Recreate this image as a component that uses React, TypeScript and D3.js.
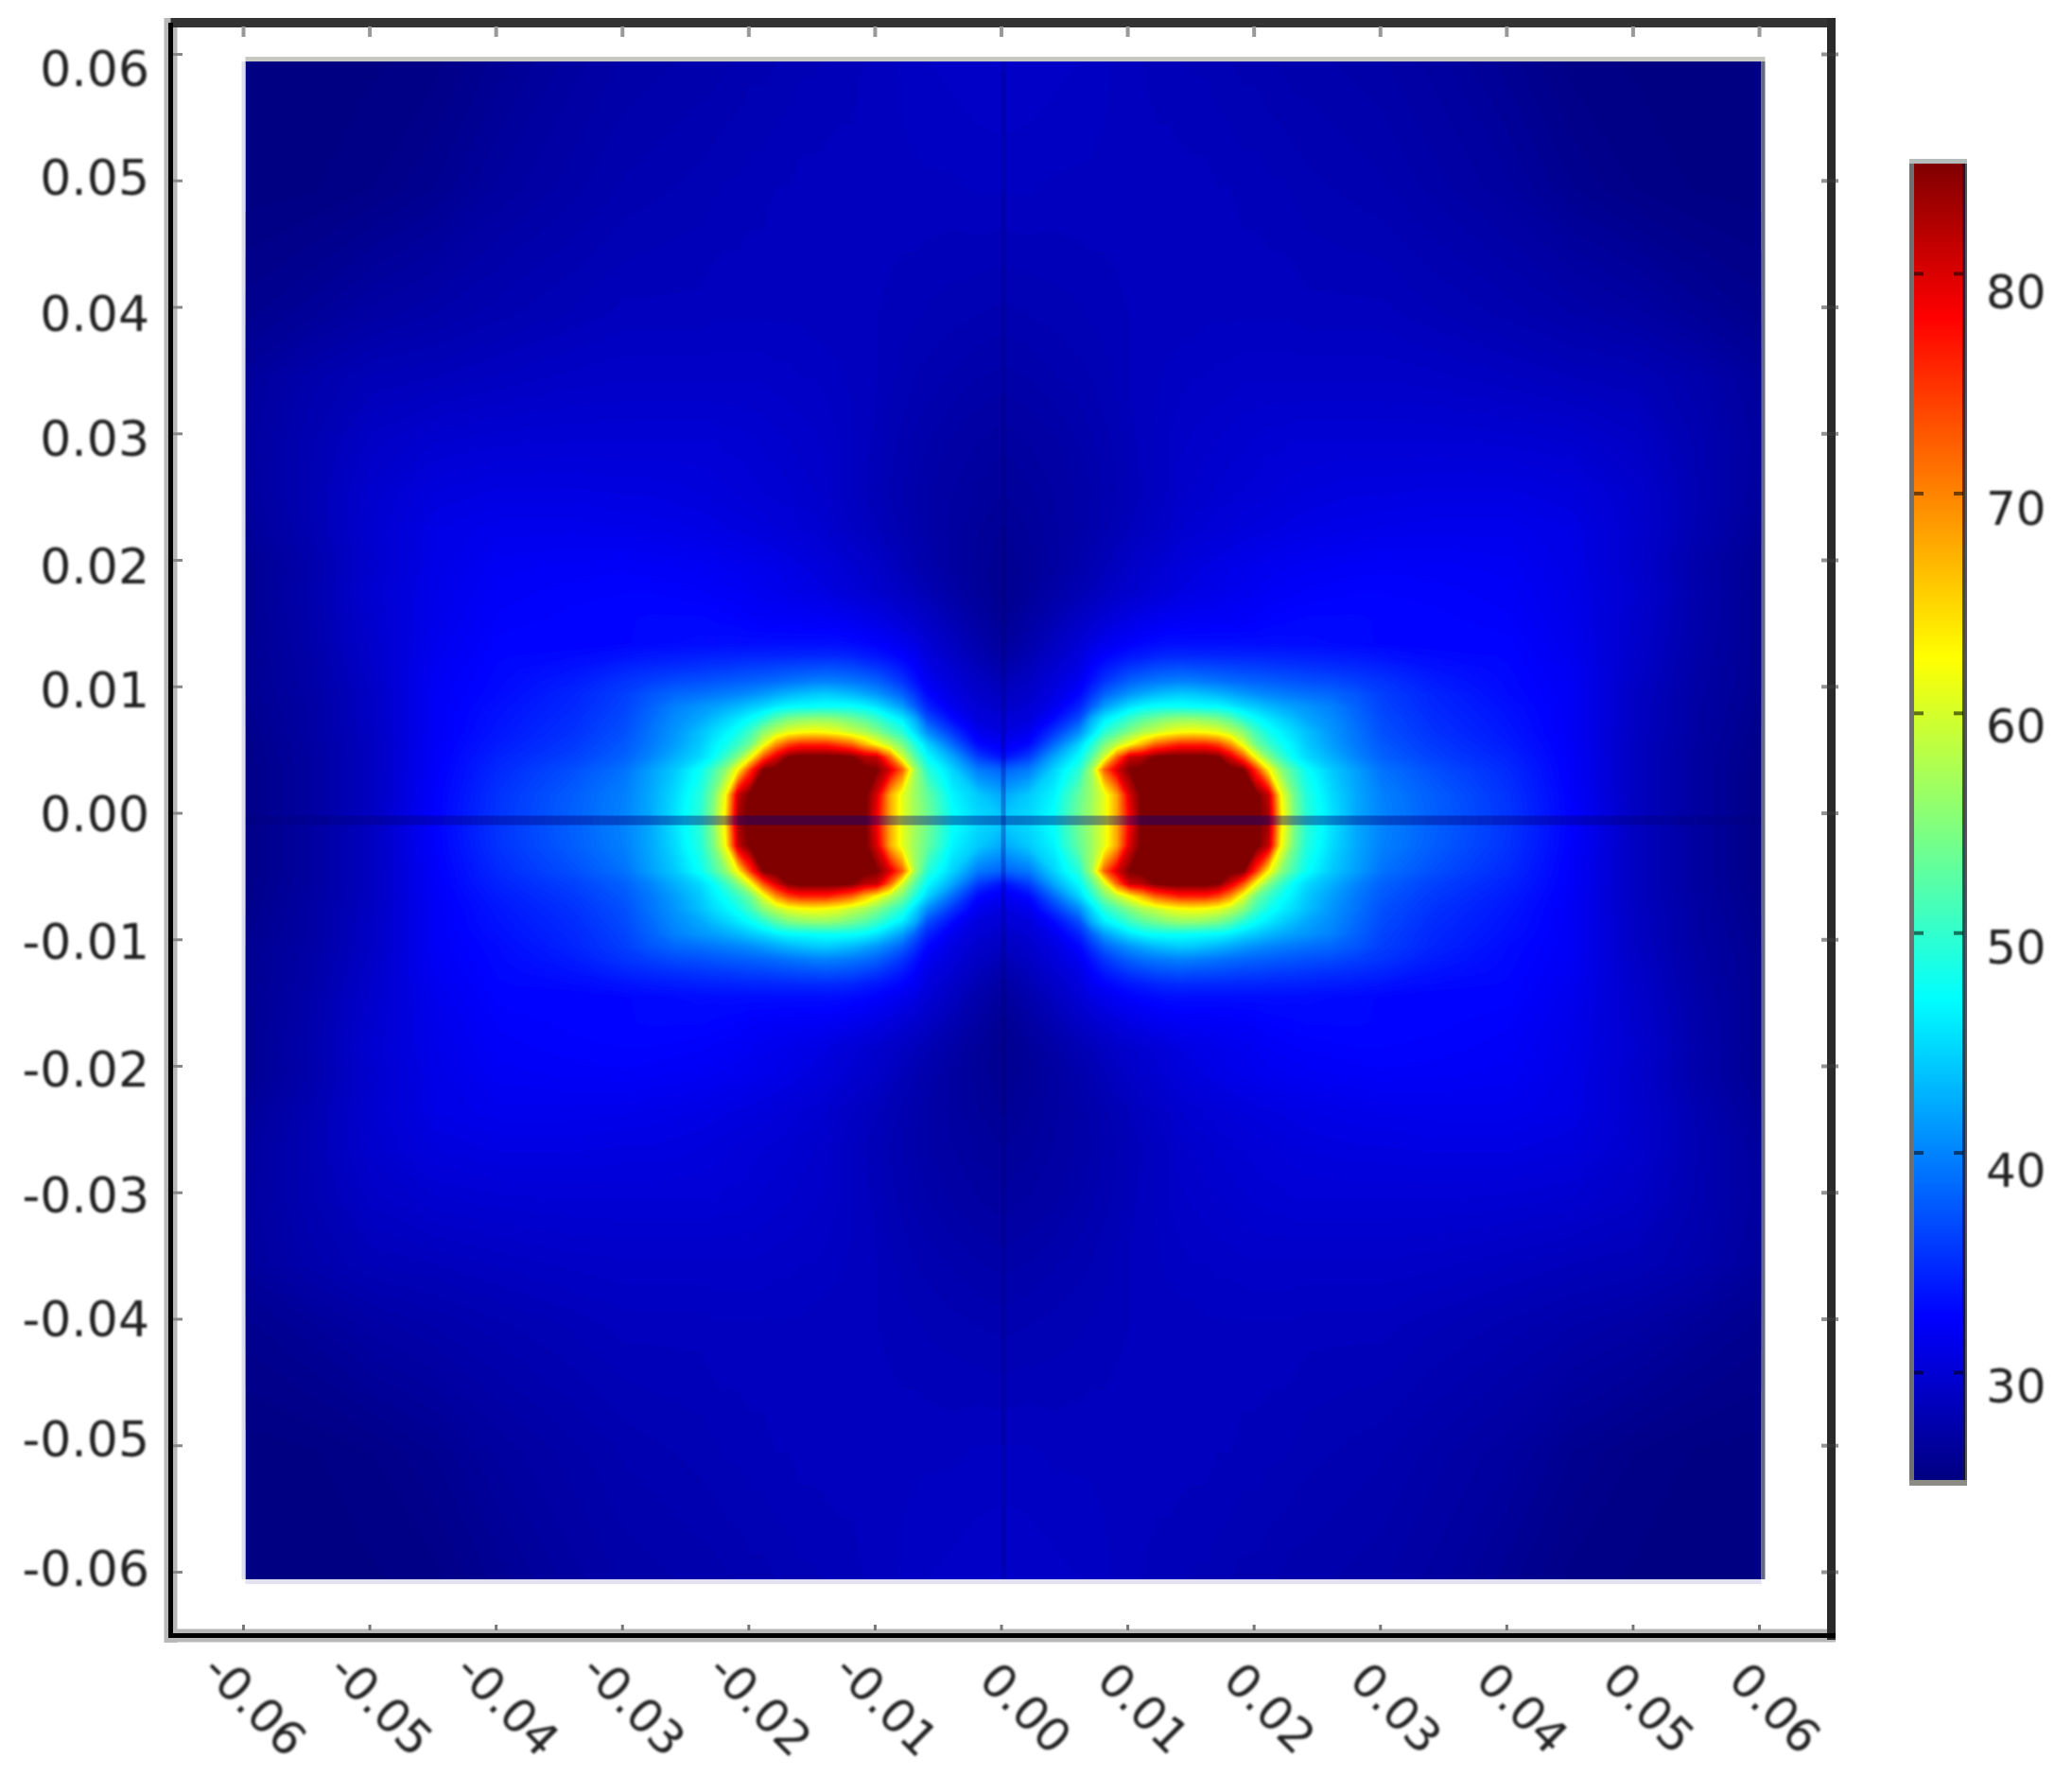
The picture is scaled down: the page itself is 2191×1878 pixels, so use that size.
import React, { useRef, useEffect } from "react";
import { select, scaleLinear, contours, geoPath, geoTransform, range, axisLeft, axisRight, axisTop, axisBottom } from "d3";

const WIDTH = 2191;
const HEIGHT = 1878;

// tick labels
const axisTicks = [-0.06, -0.05, -0.04, -0.03, -0.02, -0.01, 0, 0.01, 0.02, 0.03, 0.04, 0.05, 0.06];
const colorbarTicks = [30, 40, 50, 60, 70, 80];

// jet colormap
const colorValues = [25.1, 32.5, 47, 62.5, 78, 85];
const colorStops = ["#000082", "#0000ff", "#00ffff", "#ffff00", "#ff0000", "#800000"];

// sample positions of the field (upper right quadrant, the plot is mirrored about both axes)
const xSamples = [0, 0.002, 0.004, 0.006, 0.007, 0.008, 0.009, 0.01, 0.011, 0.012, 0.013, 0.014, 0.015, 0.016, 0.017, 0.018, 0.019, 0.02, 0.021, 0.022, 0.023, 0.024, 0.026, 0.028, 0.03, 0.034, 0.04, 0.045, 0.05, 0.055, 0.06];
const ySamples = [0, 0.002, 0.004, 0.005, 0.006, 0.007, 0.008, 0.009, 0.01, 0.011, 0.012, 0.013, 0.014, 0.016, 0.018, 0.02, 0.023, 0.026, 0.03, 0.035, 0.04, 0.05, 0.06];

// values estimated from the colours, one row per ySamples entry
const fieldRows = [
  [44, 45, 47.5, 54, 57, 61, 68, 78, 86, 86, 86, 86, 86, 86, 86, 86, 86, 86, 83, 64, 55, 49.5, 45.5, 42, 40, 38, 35.5, 32.5, 28.8, 26.8, 25.5],
  [42, 44, 46.5, 53, 56.5, 61, 68, 80, 86, 86, 86, 86, 86, 86, 86, 86, 86, 86, 81, 62, 54, 49, 45, 42, 39.8, 37.8, 35.3, 32.4, 28.8, 26.8, 25.5],
  [38, 39.5, 44.5, 49.5, 57, 72, 80, 85, 86, 86, 86, 86, 86, 86, 86, 86, 85, 75, 63, 55.5, 51, 47.5, 44, 41.5, 39, 37, 34.8, 32.2, 28.8, 26.8, 25.5],
  [33.5, 36, 42, 47, 52.5, 60, 72, 81, 82, 85, 86, 86, 86, 86, 85, 80, 73, 62, 55, 50.5, 47, 45, 42.5, 40, 38, 36.2, 34.4, 32.2, 28.8, 26.8, 25.6],
  [31.8, 33, 38.5, 44.5, 49, 54.5, 58.5, 62.5, 67, 72, 74, 76, 76, 76, 74, 69, 61, 54, 50.5, 47.8, 46, 44, 41.5, 39.3, 37.5, 35.7, 34, 32.1, 28.8, 26.9, 25.6],
  [30.7, 31.5, 35.5, 40.5, 45, 49.5, 52, 55, 57.5, 59, 61, 62, 62.5, 62, 61, 58.5, 55.5, 51, 48, 46.3, 45, 43.5, 41, 39, 37, 35.3, 33.7, 32, 28.9, 27, 25.7],
  [30, 30.5, 33, 37, 42.5, 46, 48, 50.5, 52.5, 54, 55.3, 56, 56, 55.5, 54.5, 52.5, 49.5, 47.3, 45.8, 44.5, 43.3, 42, 40.5, 38.5, 36.7, 35, 33.5, 32, 29, 27, 25.8],
  [29.2, 30, 31.5, 34.5, 38, 41.5, 43.5, 45.5, 46.7, 47.3, 47.5, 47.5, 47.2, 47, 46.8, 46, 44.8, 44, 43, 42.2, 41.5, 41, 39.8, 38, 36.3, 34.7, 33.3, 32, 29, 27, 25.9],
  [28.8, 29.4, 30.8, 32.8, 35.5, 38, 39.5, 41, 42, 43, 43.5, 44, 43.8, 43.3, 42.7, 42, 41.2, 40.5, 40, 39.6, 39.2, 38.8, 38.3, 37.3, 36, 34.5, 33, 32, 29, 27.1, 26],
  [28.2, 29, 30.3, 31.8, 33.6, 35.5, 36.8, 38, 38.7, 39.2, 39.6, 39.8, 39.7, 39.3, 39, 38.6, 38.3, 38, 37.8, 37.5, 37.3, 37, 36.7, 36, 35.4, 34, 32.9, 31.9, 29.2, 27.2, 26],
  [27.6, 28.5, 29.8, 31, 32.6, 33.9, 34.8, 35.7, 36.2, 36.8, 37, 37.2, 37, 36.9, 36.7, 36.5, 36.3, 36.2, 36, 35.8, 35.7, 35.5, 35.2, 34.9, 34.5, 33.5, 32.8, 31.8, 29.3, 27.2, 26],
  [27, 28, 29.2, 30.5, 31.8, 32.5, 33.1, 33.7, 34, 34.5, 34.7, 34.8, 34.7, 34.7, 34.6, 34.6, 34.5, 34.5, 34.4, 34.3, 34.3, 34.2, 34, 33.8, 33.5, 33, 32.7, 31.6, 29.4, 27.3, 26],
  [26.6, 27.6, 28.8, 30, 30.9, 31.5, 32, 32.4, 32.8, 33, 33.2, 33.2, 33.2, 33.2, 33.2, 33.2, 33.2, 33.2, 33.2, 33.2, 33.1, 33.1, 33, 32.9, 32.7, 32.5, 32.6, 31.5, 29.5, 27.4, 26],
  [26.1, 27, 28, 29, 29.6, 30, 30.5, 30.9, 31.2, 31.5, 31.7, 31.9, 32, 32, 32.1, 32.1, 32.2, 32.3, 32.5, 32.6, 32.7, 32.8, 32.8, 32.8, 32.7, 32.6, 32.3, 31.3, 29.6, 27.5, 26],
  [25.9, 26.5, 27.3, 28.1, 28.5, 28.9, 29.3, 29.6, 29.9, 30.2, 30.4, 30.8, 31, 31.1, 31.3, 31.5, 31.6, 31.8, 32, 32.1, 32.2, 32.3, 32.4, 32.5, 32.5, 32.4, 32.1, 31.2, 29.8, 27.6, 26],
  [26, 26.4, 26.9, 27.6, 28, 28.4, 28.8, 29.2, 29.5, 29.8, 30.1, 30.4, 30.6, 30.8, 31, 31.2, 31.3, 31.5, 31.6, 31.7, 31.8, 31.9, 32, 32.1, 32.2, 32.1, 31.9, 31.1, 29.6, 27.5, 26],
  [26.2, 26.5, 26.9, 27.3, 27.6, 27.9, 28.2, 28.5, 28.8, 29, 29.3, 29.7, 29.9, 30, 30.2, 30.3, 30.5, 30.6, 30.7, 30.8, 30.9, 31, 31.1, 31.2, 31.3, 31.4, 31.4, 31, 29.7, 27.9, 26.4],
  [26.5, 26.7, 27, 27.3, 27.5, 27.8, 28, 28.3, 28.5, 28.8, 29, 29.4, 29.5, 29.6, 29.8, 29.9, 30, 30.1, 30.2, 30.3, 30.4, 30.5, 30.6, 30.7, 30.7, 30.8, 30.8, 30.5, 29.6, 28, 26.7],
  [26.8, 27, 27.2, 27.5, 27.7, 27.9, 28.1, 28.4, 28.6, 28.8, 29, 29.2, 29.3, 29.4, 29.5, 29.6, 29.7, 29.8, 29.9, 29.9, 30, 30, 30, 30, 30, 30, 29.9, 29.7, 29.1, 27.9, 26.8],
  [27.4, 27.5, 27.7, 27.9, 28, 28.2, 28.3, 28.5, 28.6, 28.7, 28.8, 28.9, 29, 29, 29.1, 29.1, 29.2, 29.2, 29.2, 29.2, 29.2, 29.2, 29.2, 29.2, 29.2, 29.1, 28.8, 28.5, 28.3, 27.6, 26.6],
  [27.9, 28, 28.1, 28.2, 28.3, 28.3, 28.4, 28.5, 28.5, 28.6, 28.6, 28.6, 28.6, 28.7, 28.7, 28.7, 28.7, 28.7, 28.7, 28.7, 28.7, 28.6, 28.6, 28.6, 28.6, 28.3, 27.9, 27.5, 27.1, 26.4, 25.9],
  [28.8, 28.8, 28.7, 28.7, 28.7, 28.7, 28.7, 28.7, 28.7, 28.6, 28.6, 28.6, 28.6, 28.6, 28.5, 28.5, 28.4, 28.4, 28.3, 28.3, 28.2, 28.1, 28, 27.9, 27.8, 27.4, 26.8, 26, 25.5, 25.2, 25.1],
  [29.3, 29.2, 29.1, 29, 28.9, 28.8, 28.7, 28.6, 28.5, 28.4, 28.4, 28.3, 28.2, 28.2, 28.1, 28, 27.9, 27.9, 27.8, 27.7, 27.6, 27.6, 27.5, 27.4, 27.3, 26.9, 26.1, 25.4, 25.2, 25.1, 25],
];

// the tick labels of the source sit a little off their ticks
const yLabelNudge = [-2, -5, 1, 4, 5, 4, 2, 5, 8, 7, 8, -2, 17];
const colorbarLabelNudge = [15, 20, 16, 15, 17, 20];

const fixed2 = (d) => d.toFixed(2);

// mirrored index lists: -n..-1,0,1..n pointing into the quadrant arrays
const mirror = (n) => [...range(n - 1, 0, -1), ...range(0, n)];

function App() {
  const axesRef = useRef();

  const xIdx = mirror(xSamples.length);
  const yIdx = mirror(ySamples.length);
  const xAll = xIdx.map((k, i) => (i < xSamples.length - 1 ? -xSamples[k] : xSamples[k]));
  const yAll = yIdx.map((k, i) => (i < ySamples.length - 1 ? -ySamples[k] : ySamples[k]));
  const grid = [];
  yIdx.forEach((r) => xIdx.forEach((c) => grid.push(fieldRows[r][c])));

  // axes and picture are slightly out of register in the source
  const xAxis = scaleLinear().domain([-0.06, 0.06]).range([257, 1860]);
  const yAxis = scaleLinear().domain([0.06, -0.06]).range([57, 1662]);
  const xImage = scaleLinear().domain([-0.06, 0.06]).range([259.5, 1862.5]);
  const yImage = scaleLinear().domain([0.06, -0.06]).range([65, 1670]);
  const color = scaleLinear().domain(colorValues).range(colorStops).clamp(true);
  const colorbarY = scaleLinear().domain([30, 80]).range([1451, 289]);

  // contour coordinates are in grid units, sample i sits at i + 0.5
  const edgeDomain = (n) => [0, ...range(n).map((i) => i + 0.5), n];
  const edgeRange = (a) => [a[0], ...a, a[a.length - 1]];
  const xGrid = scaleLinear().domain(edgeDomain(xAll.length)).range(edgeRange(xAll));
  const yGrid = scaleLinear().domain(edgeDomain(yAll.length)).range(edgeRange(yAll));
  const path = geoPath(
    geoTransform({
      point(x, y) {
        this.stream.point(xImage(xGrid(x)), yImage(yGrid(y)));
      },
    })
  );
  const bands = contours()
    .size([xAll.length, yAll.length])
    .thresholds(range(24.5, 85.01, 0.25))(grid);

  useEffect(() => {
    const svg = select(axesRef.current);
    svg.selectAll("*").remove();
    const tickStyle = (g, stroke, width) => {
      g.select(".domain").remove();
      g.selectAll("line").attr("stroke", stroke).attr("stroke-width", width);
    };
    const labelStyle = (g, size = 52) => {
      g.selectAll("text")
        .attr("fill", "#222")
        .attr("font-family", "DejaVu Sans")
        .attr("font-size", size)
        .attr("filter", "url(#soft)");
    };

    // frame ticks
    svg.append("g").attr("transform", "translate(183,0)")
      .call(axisRight(yAxis).tickValues(axisTicks).tickSize(10).tickFormat(""))
      .call(tickStyle, "#888", 3);
    svg.append("g").attr("transform", "translate(1932,0)")
      .call(axisRight(yAxis).tickValues(axisTicks).tickSize(12).tickFormat(""))
      .call(tickStyle, "rgba(60,60,60,0.55)", 4)
      .selectAll("line").attr("x1", -6);
    svg.append("g").attr("transform", "translate(0,28)")
      .call(axisBottom(xAxis).tickValues(axisTicks).tickSize(11).tickFormat(""))
      .call(tickStyle, "#999", 4);
    svg.append("g").attr("transform", "translate(0,1724)")
      .call(axisTop(xAxis).tickValues(axisTicks).tickSize(6).tickFormat(""))
      .call(tickStyle, "#777", 3);

    // y labels
    svg.append("g").attr("transform", "translate(158,0)")
      .call(axisLeft(yAxis).tickValues(axisTicks).tickSize(0).tickPadding(0).tickFormat(fixed2))
      .call(tickStyle, "none", 0)
      .call(labelStyle)
      .selectAll("text")
      .attr("y", (d, i) => yLabelNudge[i]);

    // x labels, turned 45 degrees
    svg.append("g").attr("transform", "translate(0,1729)")
      .call(axisBottom(xAxis).tickValues(axisTicks).tickSize(0).tickFormat(fixed2))
      .call(tickStyle, "none", 0)
      .call(labelStyle, 50)
      .selectAll("text")
      .attr("x", 0)
      .attr("y", 0)
      .attr("dy", 0)
      .attr("text-anchor", "start")
      .attr("transform", (d) => {
        if (d < 0) return "translate(-46,40) rotate(45)";
        return d === 0 ? "translate(-26,50) rotate(45)" : "translate(-35,50) rotate(45)";
      });

    // colorbar ticks and labels
    svg.append("g").attr("transform", "translate(2024,0)")
      .call(axisRight(colorbarY).tickValues(colorbarTicks).tickSize(10).tickFormat(""))
      .call(tickStyle, "rgba(0,0,0,0.55)", 4);
    svg.append("g").attr("transform", "translate(2076,0)")
      .call(axisLeft(colorbarY).tickValues(colorbarTicks).tickSize(10).tickFormat(""))
      .call(tickStyle, "rgba(0,0,0,0.55)", 4);
    svg.append("g").attr("transform", "translate(2100,0)")
      .call(axisRight(colorbarY).tickValues(colorbarTicks).tickSize(0).tickPadding(0))
      .call(tickStyle, "none", 0)
      .call(labelStyle, 50)
      .selectAll("text")
      .attr("y", (d, i) => colorbarLabelNudge[i]);
  }, []);

  const [barTop, barBottom] = [173, 1565];
  const barValue = (y) => colorbarY.invert(y);

  return (
    <svg
      width={WIDTH}
      height={HEIGHT}
      style={{ position: "absolute", left: 0, top: 0, background: "#fff" }}
    >
      <defs>
        <filter id="soft" x="-10%" y="-10%" width="120%" height="120%">
          <feGaussianBlur stdDeviation="0.8" />
        </filter>
        <linearGradient id="jet" x1="0" y1="1" x2="0" y2="0">
          {colorValues.map((v, i) => (
            <stop
              key={v}
              offset={(v - barValue(barBottom)) / (barValue(barTop) - barValue(barBottom))}
              stopColor={colorStops[i]}
            />
          ))}
        </linearGradient>
        <clipPath id="imageClip">
          <rect x={xImage(-0.06)} y={yImage(0.06)} width={xImage(0.06) - xImage(-0.06)} height={yImage(-0.06) - yImage(0.06)} />
        </clipPath>
      </defs>

      {/* field */}
      <g clipPath="url(#imageClip)">
        {bands.map((b) => (
          <path key={b.value} d={path(b)} fill={color(b.value + 0.125)} />
        ))}
        {/* dark seams along the two symmetry axes */}
        <rect x={xImage(-0.06)} y={yImage(0) - 5} width={xImage(0.06) - xImage(-0.06)} height={10} fill="#000080" opacity={0.42} />
        <rect x={xImage(0) - 2.5} y={yImage(0.06)} width={5} height={yImage(-0.06) - yImage(0.06)} fill="#000080" opacity={0.3} />
      </g>

      {/* soft edges of the picture */}
      <rect x={xImage(-0.06)} y={60} width={xImage(0.06) - xImage(-0.06) + 4} height={5} fill="#c8c8c2" />
      <rect x={255.5} y={65} width={4} height={1605} fill="#dcdcf0" />
      <rect x={xImage(-0.06)} y={1670} width={xImage(0.06) - xImage(-0.06)} height={5} fill="#e2e2f2" />
      <rect x={1862.5} y={65} width={4} height={1605} fill="#666a80" />

      {/* frame */}
      <line x1={180.5} x2={180.5} y1={19} y2={1737} stroke="#b8b8b8" strokeWidth={14} />
      <line x1={174} x2={1941} y1={1729.5} y2={1729.5} stroke="#b8b8b8" strokeWidth={14} />
      <line x1={180.5} x2={1936.5} y1={24} y2={24} stroke="#333" strokeWidth={10} />
      <line x1={1936.5} x2={1936.5} y1={19} y2={1734} stroke="#2a2a2a" strokeWidth={9} />
      <line x1={180.5} x2={180.5} y1={24} y2={1729} stroke="#000" strokeWidth={5} />
      <line x1={178} x2={1941} y1={1729.5} y2={1729.5} stroke="#000" strokeWidth={5} />

      {/* colorbar */}
      <rect x={2022} y={barTop} width={56} height={barBottom - barTop} fill="url(#jet)" />
      <rect x={2019} y={168} width={5} height={1403} fill="#707070" />
      <rect x={2075} y={173} width={5} height={1392} fill="rgba(20,20,40,0.72)" />
      <rect x={2019} y={168} width={61} height={5} fill="#b4bcbc" />
      <rect x={2019} y={1565} width={61} height={6} fill="#8c8c84" />

      <g ref={axesRef} />
    </svg>
  );
}

export default App;
